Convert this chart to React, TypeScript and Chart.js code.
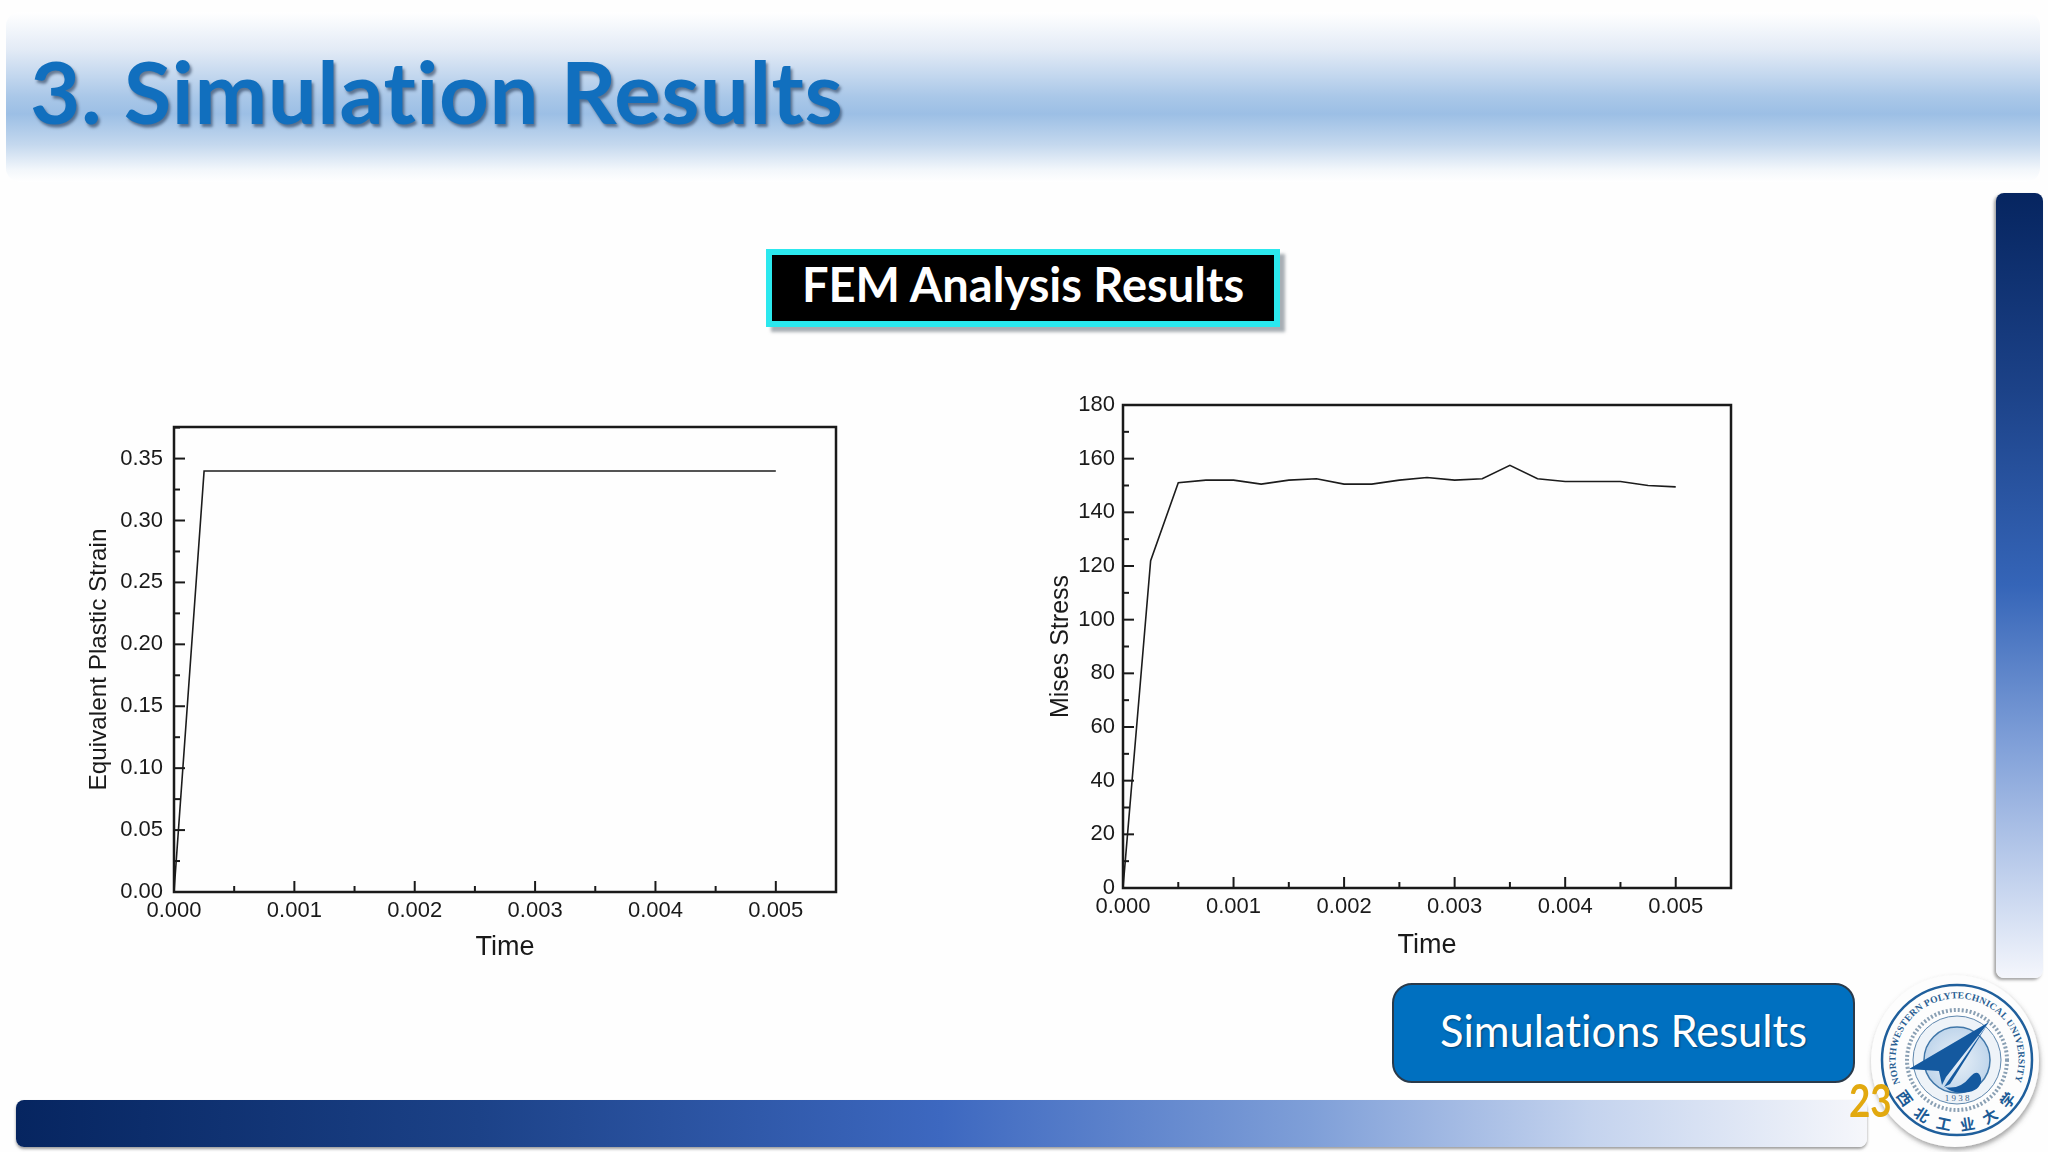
import React, { useEffect, useRef } from "react";
import { Chart, registerables } from "chart.js";

Chart.register(...registerables);

const strainTime = [0, 0.00025, 0.0005, 0.00075, 0.001, 0.00125, 0.0015, 0.00175, 0.002, 0.00225, 0.0025, 0.00275, 0.003, 0.00325, 0.0035, 0.00375, 0.004, 0.00425, 0.0045, 0.00475, 0.005];
const strainValues = [0, 0.34, 0.34, 0.34, 0.34, 0.34, 0.34, 0.34, 0.34, 0.34, 0.34, 0.34, 0.34, 0.34, 0.34, 0.34, 0.34, 0.34, 0.34, 0.34, 0.34];
const stressTime = strainTime;
const stressValues = [0, 122, 151, 152, 152, 150.5, 152, 152.5, 150.5, 150.5, 152, 153, 152, 152.5, 157.5, 152.5, 151.5, 151.5, 151.5, 150, 149.5];
const timeTickLabels = ["0.000", "0.001", "0.002", "0.003", "0.004", "0.005"];
const strainTickLabels = ["0.00", "0.05", "0.10", "0.15", "0.20", "0.25", "0.30", "0.35"];
const stressTickLabels = ["0", "20", "40", "60", "80", "100", "120", "140", "160", "180"];

const INK = "#1a1a1a";
const AXIS_FONT = '"Liberation Sans", Arial, sans-serif';
const SLIDE_FONT = 'Lato, "Open Sans", sans-serif';

const framePlugin = {
  id: "originFrame",
  afterDatasetsDraw(chart: any) {
    const { ctx, chartArea: a, scales } = chart;
    ctx.save();
    ctx.strokeStyle = INK;
    ctx.lineWidth = 2;
    scales.x.ticks.forEach((t: any, i: number) => {
      const p = scales.x.getPixelForValue(t.value);
      ctx.beginPath();
      ctx.moveTo(p, a.bottom);
      ctx.lineTo(p, a.bottom - (i % 2 === 0 ? 11 : 6));
      ctx.stroke();
    });
    scales.y.ticks.forEach((t: any, i: number) => {
      const p = scales.y.getPixelForValue(t.value);
      ctx.beginPath();
      ctx.moveTo(a.left, p);
      ctx.lineTo(a.left + (i % 2 === 0 ? 11 : 6), p);
      ctx.stroke();
    });
    ctx.lineWidth = 2.5;
    ctx.strokeRect(a.left, a.top, a.right - a.left, a.bottom - a.top);
    ctx.restore();
  },
};

type PlotProps = {
  left: number; top: number; width: number; height: number;
  xs: number[]; ys: number[];
  yMax: number; yStep: number; yLabels: string[]; yTitle: string; yTitleSize: number;
  axisW: number; axisH: number; padTop: number; padRight: number;
  yPad: number; xPad: number; yTitleTop: number; xTitleBottom: number;
};

function Plot(p: PlotProps) {
  const ref = useRef<HTMLCanvasElement>(null);
  useEffect(() => {
    const chart = new Chart(ref.current as HTMLCanvasElement, {
      type: "line",
      data: {
        datasets: [{
          data: p.xs.map((x, i) => ({ x, y: p.ys[i] })),
          borderColor: "#1c1c1c",
          borderWidth: 1.6,
          pointRadius: 0,
          tension: 0,
          fill: false,
        }],
      },
      options: {
        animation: false,
        responsive: false,
        layout: { padding: { top: p.padTop, right: p.padRight, left: 0, bottom: 0 } },
        plugins: { legend: { display: false }, tooltip: { enabled: false } },
        scales: {
          x: {
            type: "linear", min: 0, max: 0.0055,
            afterFit: (s: any) => { s.height = p.axisH; },
            grid: { display: false, drawTicks: false },
            border: { display: false },
            ticks: {
              stepSize: 0.0005, autoSkip: false, maxRotation: 0, includeBounds: false,
              padding: p.xPad, color: INK, font: { family: AXIS_FONT, size: 22 },
              callback: (_v: any, i: number) => (i % 2 === 0 ? timeTickLabels[i / 2] : ""),
            },
            title: {
              display: true, text: "Time", color: INK,
              font: { family: AXIS_FONT, size: 27 },
              padding: { top: 4, bottom: p.xTitleBottom },
            },
          },
          y: {
            type: "linear", min: 0, max: p.yMax,
            afterFit: (s: any) => { s.width = p.axisW; },
            grid: { display: false, drawTicks: false },
            border: { display: false },
            ticks: {
              stepSize: p.yStep, autoSkip: false, includeBounds: false,
              padding: p.yPad, color: INK, font: { family: AXIS_FONT, size: 22 },
              callback: (_v: any, i: number) => (i % 2 === 0 ? p.yLabels[i / 2] : ""),
            },
            title: {
              display: true, text: p.yTitle, color: INK,
              font: { family: AXIS_FONT, size: p.yTitleSize },
              padding: { top: p.yTitleTop, bottom: 0 },
            },
          },
        },
      } as any,
      plugins: [framePlugin],
    });
    return () => chart.destroy();
  }, []);
  return (
    <canvas
      ref={ref}
      width={p.width}
      height={p.height}
      style={{ position: "absolute", left: p.left, top: p.top, width: p.width, height: p.height }}
    />
  );
}

function Seal() {
  return (
    <svg width={188} height={187} viewBox="0 0 188 187" style={{ position: "absolute", left: 1860, top: 965, overflow: "visible" }}>
      <defs>
        <filter id="sealShadow" x="-20%" y="-20%" width="140%" height="140%">
          <feDropShadow dx="1" dy="3" stdDeviation="2.5" floodColor="#555" floodOpacity="0.55" />
        </filter>
        <path id="sealTop" d="M 40 118 A 61.5 61.5 0 1 1 154 118" fill="none" />
        <path id="sealBottom" d="M 36 130 A 70 70 0 0 0 158 130" fill="none" />
        <radialGradient id="disk" cx="50%" cy="50%" r="55%">
          <stop offset="0%" stopColor="#e8f0f8" />
          <stop offset="100%" stopColor="#bcd3ea" />
        </radialGradient>
      </defs>
      <ellipse cx="95" cy="96" rx="84" ry="86" fill="#fdfdfd" filter="url(#sealShadow)" />
      <circle cx="97" cy="95" r="75" fill="none" stroke="#1f5f9c" strokeWidth="2.5" />
      <circle cx="97" cy="95" r="50" fill="none" stroke="#8aa0b4" strokeWidth="4" strokeDasharray="2 2" />
      <circle cx="97" cy="95" r="44" fill="#eef3f8" stroke="#5f87ad" strokeWidth="1" />
      <circle cx="97" cy="95" r="33" fill="url(#disk)" stroke="#3f76a8" strokeWidth="1.5" />
      <text fontFamily='"Liberation Serif", serif' fontSize="9.5" fill="#2a5e92" fontWeight="700">
        <textPath href="#sealTop" textLength="238" lengthAdjust="spacing">NORTHWESTERN POLYTECHNICAL UNIVERSITY</textPath>
      </text>
      <text fontFamily='"Noto Sans CJK SC", sans-serif' fontSize="15" fill="#1c5b96" fontWeight="700">
        <textPath href="#sealBottom" textLength="145" lengthAdjust="spacing">西北工业大学</textPath>
      </text>
      <text x="97" y="136" textAnchor="middle" fontFamily='"Liberation Serif", serif' fontSize="9" fill="#44688c">1 9 3 8</text>
      <polygon points="49,104 129,57 86,112 82,120 79,106" fill="#14599f" />
      <polygon points="129,57 84,122 90,119" fill="#14599f" />
      <path d="M 85 122 Q 100 125 110 112 Q 118 103 121 113 Q 122 124 109 127 Q 94 130 85 122 Z" fill="#14599f" />
    </svg>
  );
}

const box = (l: number, t: number, w: number, h: number): React.CSSProperties => ({
  position: "absolute", left: l, top: t, width: w, height: h, boxSizing: "border-box",
});

export default function App() {
  useEffect(() => {
    document.body.style.margin = "0";
    document.body.style.background = "#ffffff";
  }, []);
  return (
    <div style={{ position: "absolute", left: 0, top: 0, width: 2048, height: 1152, overflow: "hidden", background: "#fefefe", fontFamily: SLIDE_FONT, fontVariantLigatures: "none" }}>
      {/* header band */}
      <div style={{
        ...box(6, 12, 2034, 170), borderRadius: 14,
        background: "linear-gradient(180deg,#ffffff 0%,#e3ebf6 22%,#a9c7e8 50%,#9cbfe5 60%,#c4d8ee 78%,#f3f7fb 93%,#ffffff 100%)",
      }} />
      <div style={{
        position: "absolute", left: 30, top: 33, fontSize: 87, letterSpacing: 0.5, fontWeight: 700, lineHeight: "116px", color: "#116fbe",
        textShadow: "2px 3px 3px rgba(20,40,70,0.55)", whiteSpace: "nowrap",
      }}>3. Simulation Results</div>

      {/* FEM badge */}
      <div style={{
        ...box(766, 249, 514, 78), background: "#000", border: "6px solid #2be8ee", paddingBottom: 8,
        boxShadow: "5px 5px 3px rgba(110,120,130,0.6)", color: "#fff", fontWeight: 700, fontSize: 47,
        display: "flex", alignItems: "center", justifyContent: "center", whiteSpace: "nowrap",
      }}>FEM Analysis Results</div>

      <Plot left={60} top={400} width={800} height={580} xs={strainTime} ys={strainValues}
        yMax={0.3755} yStep={0.025} yLabels={strainTickLabels} yTitle="Equivalent Plastic Strain" yTitleSize={24.3}
        axisW={114} axisH={88} padTop={27} padRight={24} yPad={11} xPad={6} yTitleTop={25} xTitleBottom={16} />
      <Plot left={1020} top={380} width={740} height={600} xs={stressTime} ys={stressValues}
        yMax={180} yStep={10} yLabels={stressTickLabels} yTitle="Mises Stress" yTitleSize={25}
        axisW={103} axisH={92} padTop={25} padRight={29} yPad={8} xPad={6} yTitleTop={26} xTitleBottom={18} />

      {/* side bar */}
      <div style={{
        ...box(1996, 193, 47, 785), borderRadius: 8,
        background: "linear-gradient(180deg,#062560 0%,#1c4288 25%,#3565b8 50%,#7f9fd8 70%,#c4d3ee 88%,#f4f6fc 100%)",
        boxShadow: "-2px 2px 3px rgba(90,90,90,0.55)",
      }} />
      {/* bottom bar */}
      <div style={{
        ...box(16, 1100, 1851, 47), borderRadius: 8,
        background: "linear-gradient(90deg,#062560 0%,#1c4288 25%,#3d68c0 50%,#7f9fd8 70%,#c4d3ee 85%,#f6f7fb 100%)",
        boxShadow: "0 2px 3px rgba(90,90,90,0.6)",
      }} />
      {/* simulations button */}
      <div style={{
        ...box(1392, 983, 463, 100), borderRadius: 20, background: "#0070c0", border: "2px solid #2a3a4a", paddingBottom: 6,
        color: "#fff", fontSize: 43.5, display: "flex", alignItems: "center", justifyContent: "center",
        textShadow: "1px 1px 2px rgba(0,0,0,0.4)", whiteSpace: "nowrap",
      }}>Simulations Results</div>

      <Seal />
      <div style={{
        position: "absolute", left: 1849, top: 1072, fontSize: 46, lineHeight: "56px", fontWeight: 700, color: "#e2a90f",
        transform: "scaleX(0.8)", transformOrigin: "left center",
      }}>23</div>
    </div>
  );
}
